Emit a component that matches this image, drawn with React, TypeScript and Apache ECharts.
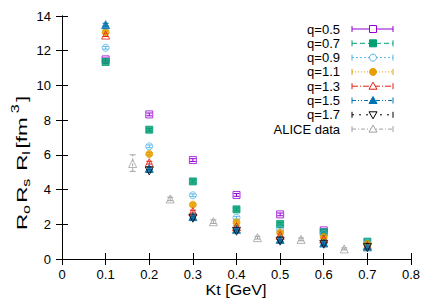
import React, { useEffect, useRef } from "react";
import * as echarts from "echarts";

const kt = [0.1, 0.2, 0.3, 0.4, 0.5, 0.6, 0.7];
const q05 = [11.5, 8.33, 5.7, 3.69, 2.57, 1.65, null];
const q07 = [11.35, 7.45, 4.47, 2.86, 2.02, 1.54, 1.0];
const q09 = [12.17, 6.49, 3.67, 2.38, 1.71, 1.44, 0.93];
const q11 = [13.07, 6.05, 3.13, 2.11, 1.52, 1.27, 0.86];
const q13 = [12.9, 5.55, 2.73, 1.86, 1.36, 1.15, 0.78];
const q15 = [13.5, 5.22, 2.44, 1.71, 1.13, 0.92, 0.7];
const q17 = [null, 5.07, 2.35, 1.6, 1.03, 0.85, 0.66];
const qErr = 0.08;
const aliceKt = [0.162, 0.248, 0.347, 0.448, 0.548, 0.647];
const aliceY = [5.5, 3.46, 2.15, 1.23, 1.13, 0.58];
const aliceLow = [5.05, 3.36, 2.05, 1.15, 1.05, 0.52];
const aliceHigh = [6.0, 3.56, 2.25, 1.31, 1.21, 0.64];
const legendNames = ["q=0.5", "q=0.7", "q=0.9", "q=1.1", "q=1.3", "q=1.5", "q=1.7", "ALICE data"];

const FONT = "Liberation Sans";

type Spec = { name: string; vals: (number | null)[]; color: string; symbol: string; hollow: boolean; rotate?: number; size: number; dash: number[] | null };

const specs: Spec[] = [
  { name: legendNames[0], vals: q05, color: "#9400d3", symbol: "rect", hollow: true, size: 7, dash: null },
  { name: legendNames[1], vals: q07, color: "#009e73", symbol: "rect", hollow: false, size: 7, dash: [5, 3] },
  { name: legendNames[2], vals: q09, color: "#56b4e9", symbol: "circle", hollow: true, size: 7, dash: [2, 2] },
  { name: legendNames[3], vals: q11, color: "#e69f00", symbol: "circle", hollow: false, size: 7, dash: [1, 2] },
  { name: legendNames[4], vals: q13, color: "#e51e10", symbol: "triangle", hollow: true, size: 8, dash: [6, 2, 1, 2] },
  { name: legendNames[5], vals: q15, color: "#0072b2", symbol: "triangle", hollow: false, size: 8, dash: [4, 2, 1, 2, 1, 2] },
  { name: legendNames[6], vals: q17, color: "#000000", symbol: "triangle", hollow: true, rotate: 180, size: 8, dash: [2, 5] },
];
const aliceColor = "#a0a0a0";

function legendMarker(s: { symbol: string; hollow: boolean; color: string; rotate?: number }, cx: number, cy: number) {
  const style = s.hollow
    ? { fill: "#fff", stroke: s.color, lineWidth: 1 }
    : { fill: s.color, stroke: s.color, lineWidth: 1 };
  if (s.symbol === "rect") return { type: "rect", shape: { x: cx - 3.5, y: cy - 3.5, width: 7, height: 7 }, style, z: 10 };
  if (s.symbol === "circle") return { type: "circle", shape: { cx, cy, r: 3.5 }, style, z: 10 };
  const pts = s.rotate
    ? [[cx - 4, cy - 3], [cx + 4, cy - 3], [cx, cy + 4]]
    : [[cx - 4, cy + 3], [cx + 4, cy + 3], [cx, cy - 4]];
  return { type: "polygon", shape: { points: pts }, style, z: 10 };
}

function errSeries(name: string, xs: number[], lo: number[], hi: number[], color: string, dash: number[] | null, cap: number) {
  return {
    type: "custom",
    name,
    xAxisIndex: 0,
    yAxisIndex: 0,
    data: xs.map((x, i) => [x, lo[i], hi[i]]),
    renderItem: (params: any, api: any) => {
      const a = api.coord([api.value(0), api.value(1)]);
      const b = api.coord([api.value(0), api.value(2)]);
      const plain = { stroke: color, lineWidth: 1 };
      return {
        type: "group",
        children: [
          { type: "line", shape: { x1: a[0], y1: a[1], x2: b[0], y2: b[1] }, style: { ...plain, lineDash: dash || undefined } },
          { type: "line", shape: { x1: a[0] - cap, y1: a[1], x2: a[0] + cap, y2: a[1] }, style: plain },
          { type: "line", shape: { x1: b[0] - cap, y1: b[1], x2: b[0] + cap, y2: b[1] }, style: plain },
        ],
      };
    },
    z: 1,
  };
}

export default function App() {
  const ref = useRef<HTMLDivElement>(null);
  useEffect(() => {
    if (!ref.current) return;
    const chart = echarts.init(ref.current, null, { renderer: "svg" });

    const series: any[] = [];
    specs.forEach((s) => {
      const idx = s.vals.map((v, i) => (v == null ? -1 : i)).filter((i) => i >= 0);
      const xs = idx.map((i) => kt[i]);
      const ys = idx.map((i) => s.vals[i] as number);
      series.push(errSeries(s.name + "-err", xs, ys.map((v) => v - qErr), ys.map((v) => v + qErr), s.color, null, 3));
      series.push({
        type: "scatter",
        name: s.name,
        xAxisIndex: 0,
        yAxisIndex: 0,
        symbol: s.symbol,
        symbolRotate: s.rotate || 0,
        symbolSize: s.size,
        data: xs.map((x, i) => [x, ys[i]]),
        itemStyle: s.hollow
          ? { color: "rgba(255,255,255,0)", borderColor: s.color, borderWidth: 1 }
          : { color: s.color, borderColor: s.color, borderWidth: 1 },
        z: 2,
      });
    });
    series.push(errSeries("alice-err", aliceKt, aliceLow, aliceHigh, aliceColor, [3, 2], 3));
    series.push({
      type: "scatter",
      name: legendNames[7],
      xAxisIndex: 0,
      yAxisIndex: 0,
      symbol: "triangle",
      symbolSize: 8,
      data: aliceKt.map((x, i) => [x, aliceY[i]]),
      itemStyle: { color: "rgba(255,255,255,0)", borderColor: aliceColor, borderWidth: 1 },
      z: 2,
    });

    const legendSpecs = [
      ...specs,
      { name: legendNames[7], color: aliceColor, symbol: "triangle", hollow: true, size: 8, dash: [4, 2, 1, 2], vals: [] },
    ];
    const graphics: any[] = [];
    legendSpecs.forEach((s: any, i: number) => {
      const y = 29 + 14.3 * i;
      graphics.push({
        type: "text",
        x: 340,
        y,
        style: { text: s.name, fill: "#000", font: `13px "${FONT}"`, textAlign: "right", textVerticalAlign: "middle" },
      });
      const ls = { stroke: s.color, lineWidth: 1, lineDash: s.dash || undefined };
      graphics.push({ type: "line", shape: { x1: 352, y1: y, x2: 393, y2: y }, style: ls });
      graphics.push({ type: "line", shape: { x1: 352, y1: y - 3, x2: 352, y2: y + 3 }, style: { stroke: s.color, lineWidth: 1 } });
      graphics.push({ type: "line", shape: { x1: 393, y1: y - 3, x2: 393, y2: y + 3 }, style: { stroke: s.color, lineWidth: 1 } });
      graphics.push(legendMarker(s, 373, y));
    });

    // rotated y-axis title
    const main = `14px "${FONT}"`;
    const small = `10px "${FONT}"`;
    const parts: any[] = [
      { t: "R", x: 0, y: 0, f: main },
      { t: "o", x: 10, y: 5, f: small },
      { t: "R", x: 17, y: 0, f: main },
      { t: "s", x: 27, y: 5, f: small },
      { t: "R", x: 37, y: 0, f: main },
      { t: "l", x: 47, y: 5, f: small },
      { t: "[fm", x: 51, y: 0, f: main },
      { t: "3", x: 73, y: -6, f: small },
      { t: "]", x: 80, y: 0, f: main },
    ];
    graphics.push({
      type: "group",
      x: 22,
      y: 230,
      rotation: Math.PI / 2,
      scaleX: 1.6,
      children: parts.map((p) => ({
        type: "text",
        x: p.x,
        y: p.y,
        style: { text: p.t, fill: "#000", font: p.f, textAlign: "left", textVerticalAlign: "middle" },
      })),
    });
    graphics.push({
      type: "text",
      x: 236,
      y: 290,
      scaleX: 1.15,
      style: { text: "Kt [GeV]", fill: "#000", font: `14px "${FONT}"`, textAlign: "center", textVerticalAlign: "middle" },
    });

    const fmt = (v: number) => String(Math.round(v * 10) / 10);
    const axisLine = { show: true, lineStyle: { color: "#000", width: 1 } };
    const tick = { show: true, inside: true, length: 6, lineStyle: { color: "#000" } };

    chart.setOption({
      animation: false,
      grid: { left: 62, right: 25, top: 16, bottom: 46, containLabel: false },
      xAxis: [
        {
          type: "value", min: 0, max: 0.8, interval: 0.1, position: "bottom",
          axisLine, axisTick: tick, splitLine: { show: false },
          axisLabel: { color: "#000", fontFamily: FONT, fontSize: 13, margin: 9, formatter: fmt },
        },
        {
          type: "value", min: 0, max: 0.8, interval: 0.1, position: "top",
          axisLine, axisTick: tick, splitLine: { show: false }, axisLabel: { show: false },
        },
      ],
      yAxis: [
        {
          type: "value", min: 0, max: 14, interval: 2, position: "left",
          axisLine, axisTick: tick, splitLine: { show: false },
          axisLabel: { color: "#000", fontFamily: FONT, fontSize: 13, margin: 11 },
        },
        {
          type: "value", min: 0, max: 14, interval: 2, position: "right",
          axisLine, axisTick: tick, splitLine: { show: false }, axisLabel: { show: false },
        },
      ],
      series,
      graphic: graphics,
    });
    return () => chart.dispose();
  }, []);
  return <div ref={ref} style={{ width: 436, height: 305, position: "absolute", left: 0, top: 0 }} />;
}
